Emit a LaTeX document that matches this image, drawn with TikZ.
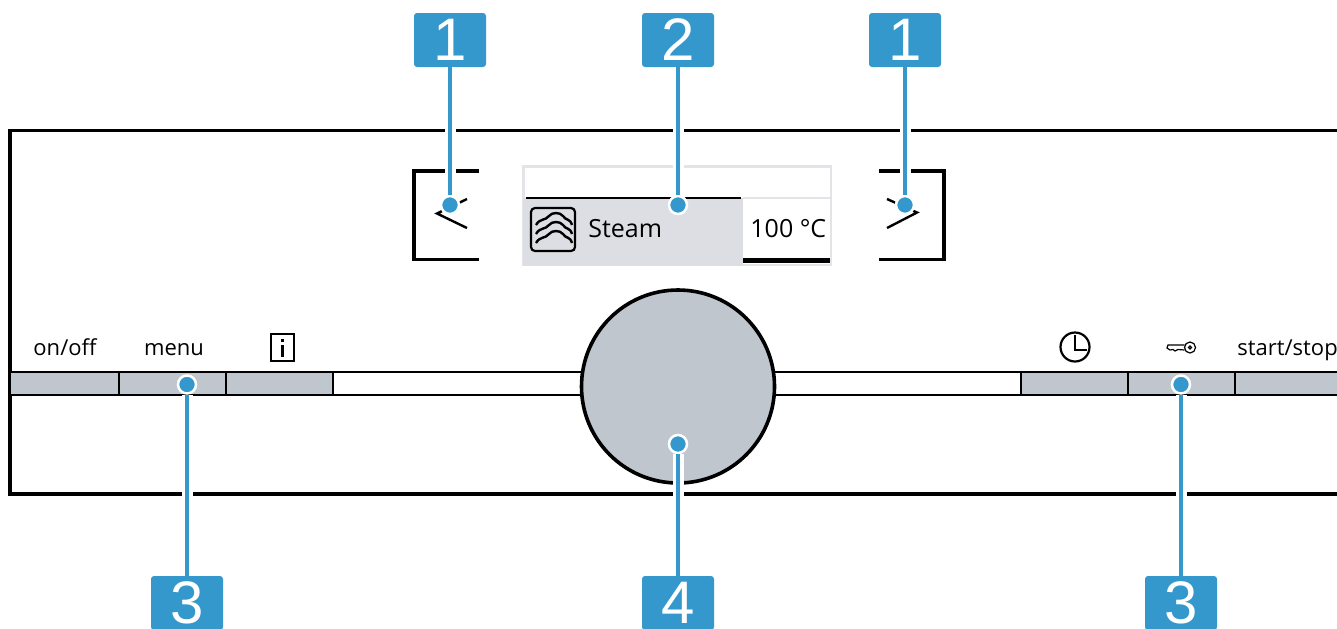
\documentclass[tikz,border=0pt]{standalone}
\usepackage{fontspec}
\setmainfont{Open Sans}
\newfontfamily\tagfont{Liberation Sans}
\usepackage{xcolor}
\definecolor{callout}{HTML}{3498CC}
\definecolor{keygrey}{HTML}{C0C6CD}
\definecolor{screen}{HTML}{DCDEE3}
\definecolor{screenedge}{HTML}{E2E4E8}
\tikzset{
  base/.style={draw=black, line width=1.8pt, line cap=butt, line join=miter},
  thin line/.style={draw=black, line width=1.2pt},
  keybar/.style={fill=keygrey, draw=black, line width=1pt},
  tagbox/.style={fill=callout, text=white, rounded corners=1.5pt, minimum width=36pt, minimum height=27pt, inner sep=0pt, font=\tagfont\fontsize{30}{30}\selectfont},
  tipdot/.style={circle, fill=callout, draw=white, line width=1.25pt, minimum size=9pt, inner sep=0pt},
  wire/.style={draw=white, double=callout, double distance=2.3pt, line width=1.6pt},
  lab/.style={text=black, inner sep=0pt, anchor=base, font=\fontsize{11}{13}\selectfont},
  labm/.style={text=black, inner sep=0pt, font=\fontsize{12.5}{15}\selectfont},
}
\begin{document}
\begin{tikzpicture}[x=0.5pt,y=-0.5pt]
  \useasboundingbox (0,0) rectangle (1337,628);
  \clip (0,0) rectangle (1337,628);

  % panel
  \draw[base] (1345,130.5) -- (10,130.5) -- (10,494) -- (1345,494);

  % key strip
  \draw[thin line] (10,372) rectangle (1345,395);
  \foreach \xa/\xb in {10/119,119/226,226/333,1021/1128,1128/1235,1235/1345}
    \draw[keybar] (\xa,372) rectangle (\xb,395);

  % knob
  \draw[base, fill=keygrey] (678,386.5) circle (96.5);

  % display
  \draw[draw=screenedge, line width=1.25pt, fill=white] (523.5,166.5) rectangle (831,265);
  \fill[screen] (522.5,198) rectangle (743,265.5);
  \draw[draw=screenedge, line width=1pt] (743,197.5) -- (831,197.5);
  \draw[thin line] (526,198) -- (741,198);
  \draw[draw=black, line width=2.2pt] (743,260.5) -- (830,260.5);
  \draw[draw=black, line width=1.1pt, rounded corners=2pt, fill=screen] (531,208) rectangle (575,251);
  \foreach \dy in {0,9,18}
    \draw[draw=black, line width=1.2pt] (536,225+\dy) .. controls (540,218+\dy) and (545,221+\dy) .. (549,216+\dy) .. controls (552,212+\dy) and (560,212+\dy) .. (563,216+\dy) .. controls (566,221+\dy) and (570,218+\dy) .. (572,225+\dy);
  \node[labm, anchor=base west] (steam) at (588,237) {Steam};
  \node[labm, anchor=base west] (temp) at (750,237) {100 °C};

  % side brackets and arrows
  \draw[base] (479,171) -- (414,171) -- (414,259.5) -- (479,259.5);
  \draw[base] (879,171) -- (944,171) -- (944,259.5) -- (879,259.5);
  \draw[thin line] (467,199) -- (437,213.5) -- (467,228);
  \draw[thin line] (887,199) -- (917,212.5) -- (887,228);

  % key labels
  \node[lab] (onoff) at (65,355) {on/off};
  \node[lab] (menu) at (174,355) {menu};
  \node[lab, anchor=base west] (startstop) at (1237,355) {start/stop};

  % info key
  \draw[draw=black, line width=0.75pt] (271,334) rectangle (294,361);
  \fill[black] (281.2,338.5) rectangle (284.3,342);
  \fill[black] (281.2,345) rectangle (284.3,357);

  % clock
  \draw[draw=black, line width=1.1pt] (1075,347) circle (14.5);
  \draw[draw=black, line width=1.1pt] (1075,335) -- (1075,350) -- (1087,350);

  % key symbol
  \draw[draw=black, line width=0.6pt] (1190,347.5) circle (5.5) (1190,347.5) circle (1.5);
  \draw[draw=black, line width=0.6pt] (1184.5,345) -- (1168,345) -- (1167,348) -- (1170,350) -- (1173,349.5) -- (1175,351) -- (1178,349.5) -- (1184.5,350);

  % callouts
  \node[tagbox] (tagA) at (450,40) {1};
  \node[tagbox] (tagB) at (678,40) {2};
  \node[tagbox] (tagC) at (905,40) {1};
  \node[tagbox] (tagD) at (187,603) {3};
  \node[tagbox] (tagE) at (678,603) {4};
  \node[tagbox] (tagF) at (1181,603) {3};
  \node[tipdot] (dotA) at (450,205) {};
  \node[tipdot] (dotB) at (678,205) {};
  \node[tipdot] (dotC) at (905,205) {};
  \node[tipdot] (dotD) at (187,384.5) {};
  \node[tipdot] (dotE) at (678,444) {};
  \node[tipdot] (dotF) at (1181,384.5) {};
  \draw[wire] (tagA) -- (dotA);
  \draw[wire] (tagB) -- (dotB);
  \draw[wire] (tagC) -- (dotC);
  \draw[wire] (tagD) -- (dotD);
  \draw[wire] (tagE) -- (dotE);
  \draw[wire] (tagF) -- (dotF);
\end{tikzpicture}
\end{document}
